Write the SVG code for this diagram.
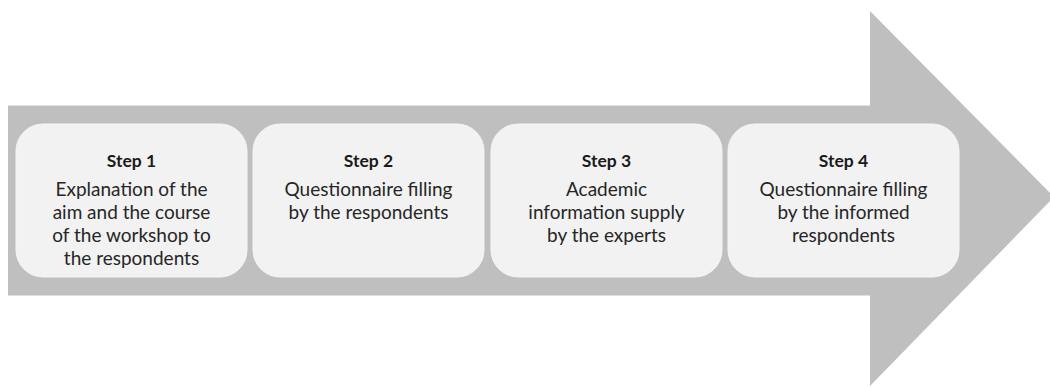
<svg xmlns="http://www.w3.org/2000/svg" width="1050" height="387" viewBox="0 0 1050 387">
<style>
.box{fill:#f2f2f2;stroke:#f5f5f5;stroke-width:1}
.title{font-family:Lato,"Open Sans","Liberation Sans",sans-serif;font-weight:bold;font-size:17.5px;fill:#1a1a1a;text-anchor:middle}
.body{font-family:Lato,"Open Sans","Liberation Sans",sans-serif;font-size:19px;fill:#262626;text-anchor:middle}
</style>
<rect width="1050" height="387" fill="#ffffff"/>
<g id="arrow">
<path d="M8,105.5 L870,105.5 L870,11 L1054,197 L870,386 L870,295.5 L8,295.5 Z" fill="#bfbfbf"/>
</g>
<g id="step1">
<rect class="box" x="16" y="124" width="231" height="153" rx="27"/>
<text class="title" x="131.5" y="167">Step 1</text>
<text class="body" x="131.5" y="196">Explanation of the</text>
<text class="body" x="131.5" y="218.9">aim and the course</text>
<text class="body" x="131.5" y="241.8">of the workshop to</text>
<text class="body" x="131.5" y="264.7">the respondents</text>
</g>
<g id="step2">
<rect class="box" x="253" y="124" width="231" height="153" rx="27"/>
<text class="title" x="368.5" y="167">Step 2</text>
<text class="body" x="368.5" y="196">Questionnaire filling</text>
<text class="body" x="368.5" y="218.9">by the respondents</text>
</g>
<g id="step3">
<rect class="box" x="491" y="124" width="231" height="153" rx="27"/>
<text class="title" x="606.5" y="167">Step 3</text>
<text class="body" x="606.5" y="196">Academic</text>
<text class="body" x="606.5" y="218.9">information supply</text>
<text class="body" x="606.5" y="241.8">by the experts</text>
</g>
<g id="step4">
<rect class="box" x="728" y="124" width="231" height="153" rx="27"/>
<text class="title" x="843.5" y="167">Step 4</text>
<text class="body" x="843.5" y="196">Questionnaire filling</text>
<text class="body" x="843.5" y="218.9">by the informed</text>
<text class="body" x="843.5" y="241.8">respondents</text>
</g>
<g id="connectors"></g>
</svg>
